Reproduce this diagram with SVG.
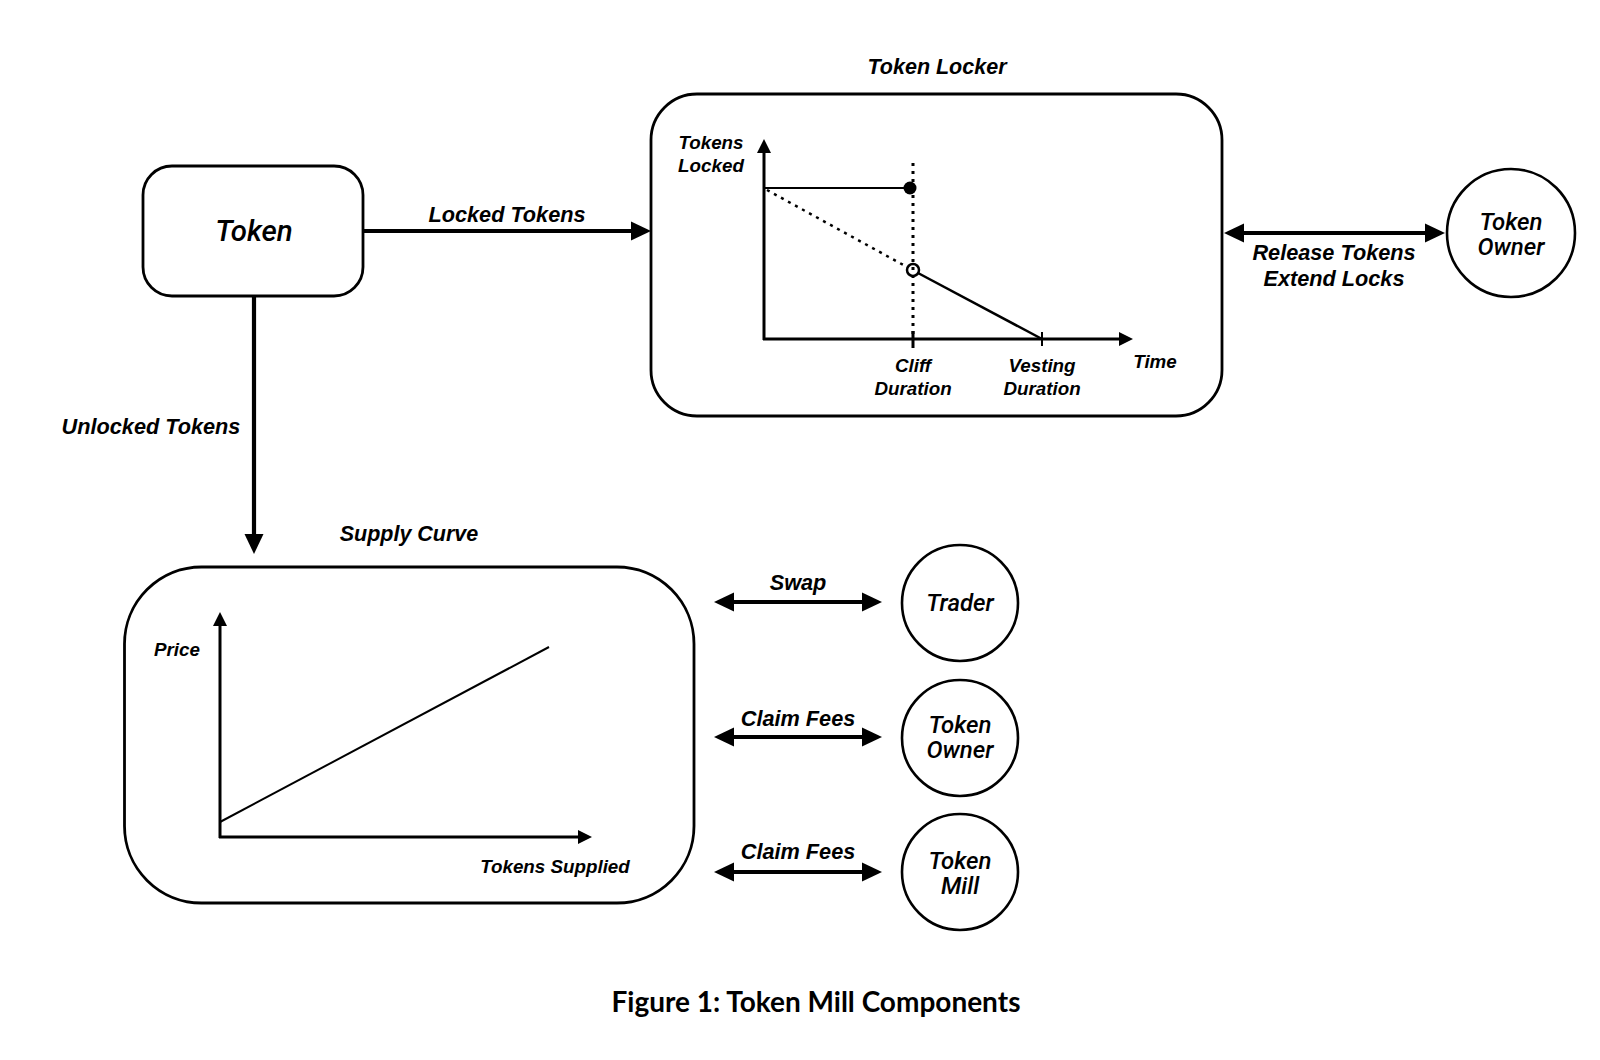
<svg xmlns="http://www.w3.org/2000/svg" width="1600" height="1060" viewBox="0 0 1600 1060">
<style>
.box{fill:none;stroke:#000;stroke-width:2.8}
.circ{fill:#fff;stroke:#000;stroke-width:2.6}
.edge{stroke:#000;stroke-width:4.2;fill:none}
.axis{stroke:#000;stroke-width:3;fill:none}
.plot{stroke:#000;stroke-width:2.5;fill:none}
.dot{stroke:#000;stroke-width:3;fill:none;stroke-dasharray:3 5}
.lbl{font-family:"Liberation Sans",Arial,sans-serif;font-weight:bold;font-style:italic;font-size:21.7px;text-anchor:middle;fill:#000}
.ttl{font-family:"Liberation Sans",Arial,sans-serif;font-weight:bold;font-style:italic;font-size:21.5px;text-anchor:middle;fill:#000}
.ax{font-family:"Liberation Sans",Arial,sans-serif;font-weight:bold;font-style:italic;font-size:18.8px;text-anchor:middle;fill:#000}
.node{font-family:Roboto,"Liberation Sans",Arial,sans-serif;font-weight:500;font-style:italic;font-size:24px;text-anchor:middle;fill:#000}
.cap{font-family:Lato,"Liberation Sans",Arial,sans-serif;font-weight:bold;font-size:28px;text-anchor:middle;fill:#000}
</style>
<defs>
<marker id="ah" viewBox="0 0 20 20" refX="11" refY="10" markerWidth="20" markerHeight="20" markerUnits="userSpaceOnUse" orient="auto-start-reverse"><path d="M0,0.5 L20,10 L0,19.5 z" fill="#000"/></marker>
<marker id="ahs" viewBox="0 0 14 14" refX="8" refY="7" markerWidth="14" markerHeight="14" markerUnits="userSpaceOnUse" orient="auto-start-reverse"><path d="M0,0 L14,7 L0,14 z" fill="#000"/></marker>
</defs>
<rect width="1600" height="1060" fill="#fff"/>

<g id="connectors">
<line class="edge" x1="363" y1="231" x2="642" y2="231" marker-end="url(#ah)"/>
<text class="lbl" x="507" y="222">Locked Tokens</text>
<line class="edge" x1="254" y1="296" x2="254" y2="545" marker-end="url(#ah)"/>
<text class="lbl" x="151" y="434">Unlocked Tokens</text>
<line class="edge" x1="1233" y1="233" x2="1436" y2="233" marker-start="url(#ah)" marker-end="url(#ah)"/>
<text class="lbl" x="1334" y="260">Release Tokens</text>
<text class="lbl" x="1334" y="286">Extend Locks</text>
<line class="edge" x1="723" y1="602" x2="873" y2="602" marker-start="url(#ah)" marker-end="url(#ah)"/>
<text class="lbl" x="798" y="590">Swap</text>
<line class="edge" x1="723" y1="737" x2="873" y2="737" marker-start="url(#ah)" marker-end="url(#ah)"/>
<text class="lbl" x="798" y="726">Claim Fees</text>
<line class="edge" x1="723" y1="872" x2="873" y2="872" marker-start="url(#ah)" marker-end="url(#ah)"/>
<text class="lbl" x="798" y="859">Claim Fees</text>
</g>

<g id="token">
<rect class="box" x="143" y="166" width="220" height="130" rx="29"/>
<text class="node" x="254" y="241" style="font-size:29.5px">Token</text>
</g>

<g id="token-locker">
<text class="ttl" x="937" y="74">Token Locker</text>
<rect class="box" x="651" y="94" width="571" height="322" rx="46"/>
<line class="axis" x1="764" y1="340" x2="764" y2="145" marker-end="url(#ahs)"/>
<line class="axis" x1="763" y1="339" x2="1127" y2="339" marker-end="url(#ahs)"/>
<text class="ax" x="711" y="149">Tokens</text>
<text class="ax" x="711" y="172">Locked</text>
<line class="plot" x1="764" y1="188" x2="905" y2="188" style="stroke-width:2"/>
<circle cx="910" cy="188" r="6.5" fill="#000"/>
<line class="dot" x1="913" y1="163" x2="913" y2="337"/>
<line class="dot" x1="767" y1="190" x2="907" y2="267" style="stroke-width:2.5"/>
<circle cx="913" cy="270" r="6" fill="none" stroke="#000" stroke-width="2.5"/>
<line class="plot" x1="918" y1="273" x2="1042" y2="339"/>
<line class="axis" x1="913" y1="331" x2="913" y2="348"/>
<line class="axis" x1="1042" y1="332" x2="1042" y2="346" style="stroke-width:2"/>
<text class="ax" x="913" y="372">Cliff</text>
<text class="ax" x="913" y="395">Duration</text>
<text class="ax" x="1042" y="372">Vesting</text>
<text class="ax" x="1042" y="395">Duration</text>
<text class="ax" x="1155" y="368">Time</text>
</g>

<g id="token-owner-top">
<circle class="circ" cx="1511" cy="233" r="64"/>
<text class="node" x="1511" y="230">Token</text>
<text class="node" x="1511" y="255">Owner</text>
</g>

<g id="supply-curve">
<text class="ttl" x="409" y="541">Supply Curve</text>
<rect class="box" x="124.5" y="567" width="569.5" height="336" rx="77"/>
<line class="axis" x1="220" y1="838" x2="220" y2="618" marker-end="url(#ahs)"/>
<line class="axis" x1="219" y1="837" x2="586" y2="837" marker-end="url(#ahs)"/>
<line class="plot" x1="220" y1="822" x2="549" y2="647" style="stroke-width:2"/>
<text class="ax" x="177" y="656">Price</text>
<text class="ax" x="555" y="873">Tokens Supplied</text>
</g>

<g id="trader">
<circle class="circ" cx="960" cy="603" r="58"/>
<text class="node" x="960" y="611">Trader</text>
</g>

<g id="token-owner">
<circle class="circ" cx="960" cy="738" r="58"/>
<text class="node" x="960" y="733">Token</text>
<text class="node" x="960" y="758">Owner</text>
</g>

<g id="token-mill">
<circle class="circ" cx="960" cy="872" r="58"/>
<text class="node" x="960" y="869">Token</text>
<text class="node" x="960" y="894">Mill</text>
</g>

<text class="cap" x="816" y="1012">Figure 1: Token Mill Components</text>
</svg>
